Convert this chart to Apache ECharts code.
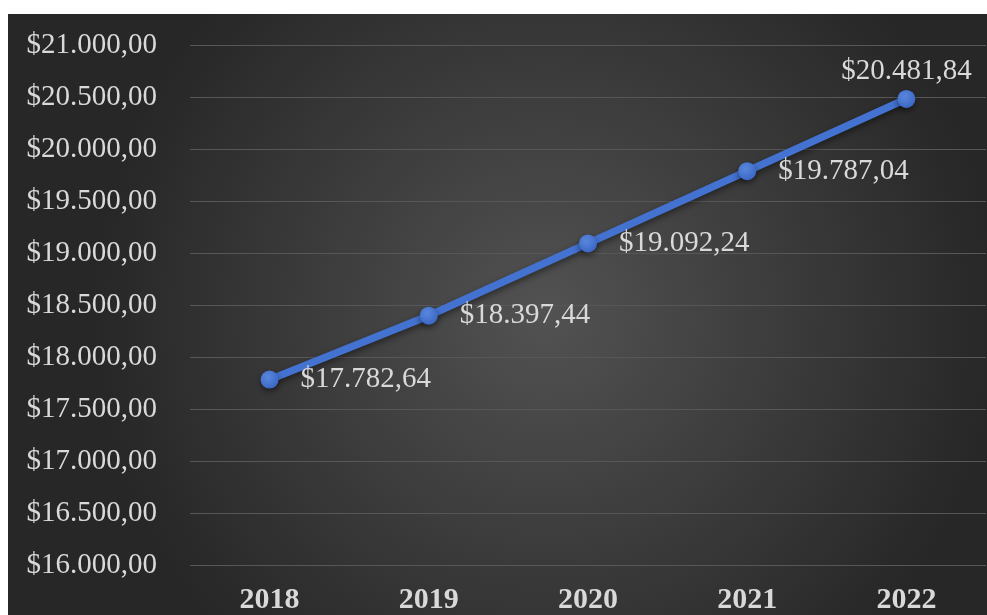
<!DOCTYPE html>
<html>
<head>
<meta charset="utf-8">
<script src="https://cdn.jsdelivr.net/npm/echarts@6/dist/echarts.min.js"></script>
<style>
  html, body { margin: 0; padding: 0; background: #ffffff; }
  #chart { position: absolute; left: 8px; top: 14px; width: 979px; height: 601px; }
</style>
</head>
<body>
<div id="chart"></div>
<script>
// Yearly values
const years = ['2018', '2019', '2020', '2021', '2022'];
const amounts = [17782.64, 18397.44, 19092.24, 19787.04, 20481.84];
// Value axis range
const axisMin = 16000;
const axisMax = 21000;
const axisStep = 500;

// "$20.481,84" style: dot for thousands, comma for decimals
function money(v) {
  const parts = Number(v).toFixed(2).split('.');
  const intPart = parts[0].replace(/\B(?=(\d{3})+(?!\d))/g, '.');
  return '$' + intPart + ',' + parts[1];
}

const chart = echarts.init(document.getElementById('chart'));
const serif = "'Liberation Serif', 'Times New Roman', serif";

chart.setOption({
  backgroundColor: {
    type: 'radial', x: 0.55, y: 0.5, r: 0.75,
    colorStops: [
      { offset: 0, color: '#525252' },
      { offset: 1, color: '#272727' }
    ]
  },
  animation: false,
  grid: { left: 182, right: 1, top: 31, bottom: 50 },
  xAxis: {
    type: 'category',
    data: years,
    boundaryGap: true,
    axisLine: { show: false },
    axisTick: { show: false },
    axisLabel: {
      color: '#d9d9d9', fontFamily: serif, fontSize: 30, fontWeight: 'bold', margin: 20
    }
  },
  yAxis: {
    type: 'value',
    min: axisMin, max: axisMax, interval: axisStep,
    axisLine: { show: false },
    axisTick: { show: false },
    splitLine: { lineStyle: { color: '#575757', width: 1.2 } },
    axisLabel: {
      color: '#d9d9d9', fontFamily: serif, fontSize: 29, margin: 33,
      formatter: money
    }
  },
  series: [{
    type: 'line',
    data: amounts.map((v, i) => ({
      value: v,
      label: i === amounts.length - 1
        ? { position: 'top', distance: 4 }
        : { position: 'right', distance: 22 }
    })),
    symbol: 'circle',
    symbolSize: 18,
    lineStyle: {
      color: '#4372d0', width: 7.5,
      shadowColor: 'rgba(0,0,0,0.45)', shadowBlur: 6, shadowOffsetY: 3
    },
    itemStyle: {
      color: {
        type: 'radial', x: 0.4, y: 0.35, r: 0.7,
        colorStops: [
          { offset: 0, color: '#5a87dc' },
          { offset: 1, color: '#3966c4' }
        ]
      },
      shadowColor: 'rgba(0,0,0,0.45)', shadowBlur: 6, shadowOffsetY: 3
    },
    label: {
      show: true,
      color: '#d9d9d9', fontFamily: serif, fontSize: 29,
      formatter: p => money(p.value)
    }
  }]
});
</script>
</body>
</html>
